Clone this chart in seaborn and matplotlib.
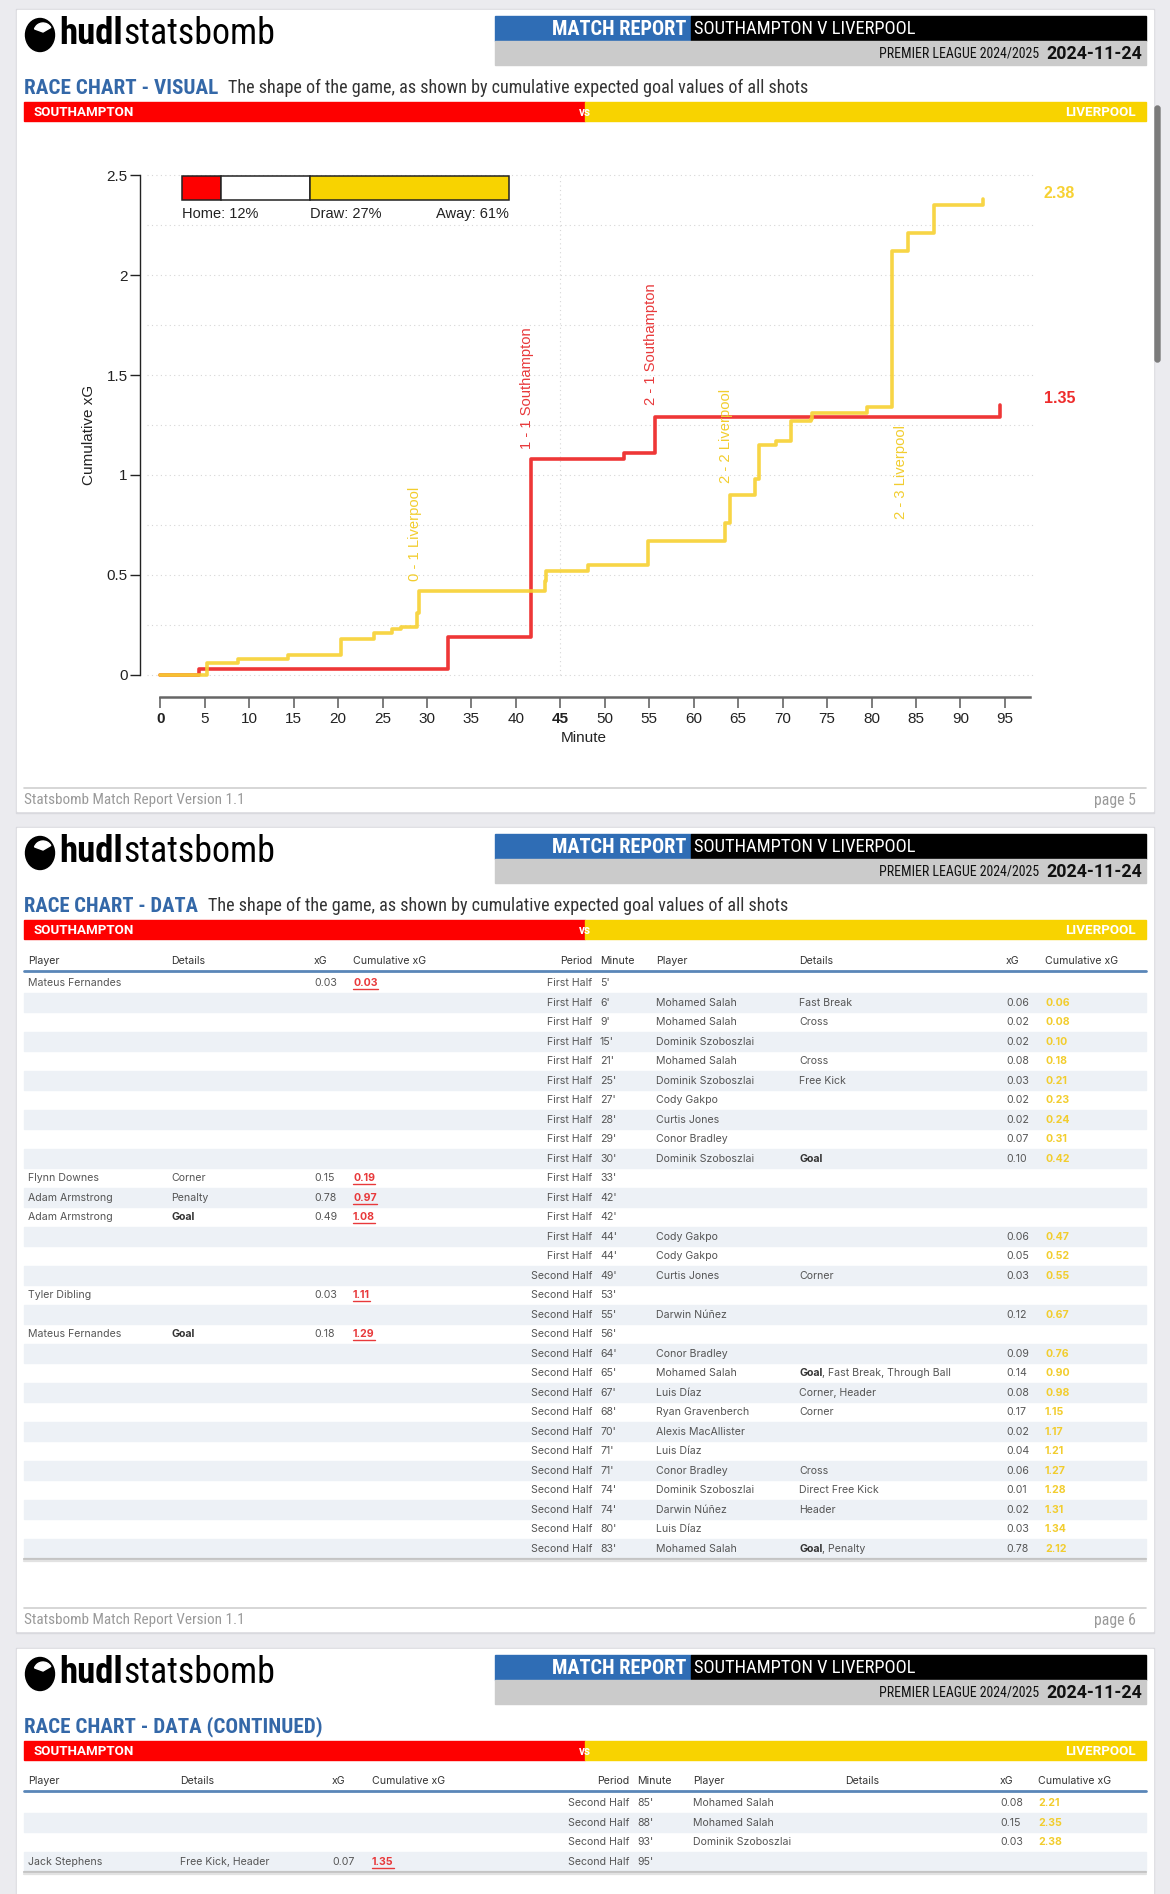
import numpy as np
import pandas as pd
import matplotlib
matplotlib.use("Agg")
import matplotlib.pyplot as plt
import seaborn as sns
from matplotlib import font_manager as fm
from matplotlib.patches import Rectangle, FancyBboxPatch, Ellipse, Wedge

# ------------------------------------------------------------------ data
home_team = "SOUTHAMPTON"
away_team = "LIVERPOOL"
competition = "PREMIER LEAGUE 2024/2025"
match_date = "2024-11-24"
match_title = "SOUTHAMPTON V LIVERPOOL"

prob_names = ["Home", "Draw", "Away"]
prob_values = [12, 27, 61]

home_minute = [5, 33, 42, 42, 53, 56, 95]
home_time = [4.4, 32.4, 41.7, 41.75, 52.2, 55.6, 94.5]
home_player = ["Mateus Fernandes", "Flynn Downes", "Adam Armstrong", "Adam Armstrong",
               "Tyler Dibling", "Mateus Fernandes", "Jack Stephens"]
home_detail = ["", "Corner", "Penalty", "Goal", "", "Goal", "Free Kick, Header"]
home_xg = [0.03, 0.15, 0.78, 0.49, 0.03, 0.18, 0.07]
home_cum = [0.03, 0.19, 0.97, 1.08, 1.11, 1.29, 1.35]

away_minute = [6, 9, 15, 21, 25, 27, 28, 29, 30, 44, 44, 49, 55, 64, 65, 67, 68, 70,
               71, 71, 74, 74, 80, 83, 85, 88, 93]
away_time = [5.2, 8.7, 14.4, 20.3, 24.0, 26.1, 27.1, 28.9, 29.1, 43.3, 43.35, 48.1, 54.9,
             63.5, 64.1, 66.9, 67.3, 69.3, 70.9, 70.95, 73.25, 73.3, 79.5, 82.35, 84.05,
             87.0, 92.5]
away_player = ["Mohamed Salah", "Mohamed Salah", "Dominik Szoboszlai", "Mohamed Salah",
               "Dominik Szoboszlai", "Cody Gakpo", "Curtis Jones", "Conor Bradley",
               "Dominik Szoboszlai", "Cody Gakpo", "Cody Gakpo", "Curtis Jones",
               "Darwin Núñez", "Conor Bradley", "Mohamed Salah", "Luis Díaz",
               "Ryan Gravenberch", "Alexis MacAllister", "Luis Díaz", "Conor Bradley",
               "Dominik Szoboszlai", "Darwin Núñez", "Luis Díaz", "Mohamed Salah",
               "Mohamed Salah", "Mohamed Salah", "Dominik Szoboszlai"]
away_detail = ["Fast Break", "Cross", "", "Cross", "Free Kick", "", "", "", "Goal", "", "",
               "Corner", "", "", "Goal, Fast Break, Through Ball", "Corner, Header",
               "Corner", "", "", "Cross", "Direct Free Kick", "Header", "",
               "Goal, Penalty", "", "", ""]
away_xg = [0.06, 0.02, 0.02, 0.08, 0.03, 0.02, 0.02, 0.07, 0.10, 0.06, 0.05, 0.03, 0.12,
           0.09, 0.14, 0.08, 0.17, 0.02, 0.04, 0.06, 0.01, 0.02, 0.03, 0.78, 0.08, 0.15,
           0.03]
away_cum = [0.06, 0.08, 0.10, 0.18, 0.21, 0.23, 0.24, 0.31, 0.42, 0.47, 0.52, 0.55, 0.67,
            0.76, 0.90, 0.98, 1.15, 1.17, 1.21, 1.27, 1.28, 1.31, 1.34, 2.12, 2.21, 2.35,
            2.38]

goal_text = ["0 - 1 Liverpool", "1 - 1 Southampton", "2 - 1 Southampton",
             "2 - 2 Liverpool", "2 - 3 Liverpool"]
goal_side = ["away", "home", "home", "away", "away"]
goal_time = [28.6, 41.2, 55.2, 63.6, 83.3]
goal_label_y = [0.47, 1.13, 1.35, 0.96, 0.78]

x_ticks = list(range(0, 96, 5))
y_ticks = [0, 0.5, 1, 1.5, 2, 2.5]
y_tick_labels = ["0", "0.5", "1", "1.5", "2", "2.5"]

# ------------------------------------------------------------------ style
sns.set_theme(style="white")
names = {f.name for f in fm.fontManager.ttflist}


def pick(*cands):
    for c in cands:
        if c in names:
            return c
    return "DejaVu Sans"


HFONT = pick("Roboto Condensed", "Liberation Sans Narrow", "Roboto", "Liberation Sans")
WFONT = pick("Roboto", "Liberation Sans")
CFONT = pick("Liberation Sans", "Roboto", "DejaVu Sans")
TFONT = pick("Inter", "Roboto", "Liberation Sans")
plt.rcParams["font.family"] = [CFONT, "DejaVu Sans"]

RED_BAR = "#fe0000"
YEL_BAR = "#f8d300"
RED_LINE = "#ee2c2c"
YEL_LINE = "#f7d132"
RED_TXT = "#e8393b"
YEL_TXT = "#f2cd2e"
BLUE = "#3468a8"
TXT = "#555555"

W, H = 1170, 1894
fig = plt.figure(figsize=(W / 100, H / 100), dpi=100)
fig.patch.set_facecolor("#ebebef")
bg = fig.add_axes([0, 0, 1, 1])
bg.set_xlim(0, W)
bg.set_ylim(H, 0)
bg.axis("off")
R = fig.canvas.get_renderer()


def fit(x, y, s, w, ha="left", fs=10, **kw):
    t = bg.text(x, y, s, ha=ha, va="center", fontsize=fs, **kw)
    bw = t.get_window_extent(R).width
    t.set_fontsize(fs * w / bw)
    return t


def twidth(t):
    return t.get_window_extent(R).width


# ------------------------------------------------------------------ pages
pages = [dict(top=10, bottom=811, title="RACE CHART - VISUAL", tw=194,
              sub="The shape of the game, as shown by cumulative expected goal values of all shots",
              sw=579, page="page 5"),
         dict(top=828, bottom=1631, title="RACE CHART - DATA", tw=174,
              sub="The shape of the game, as shown by cumulative expected goal values of all shots",
              sw=579, page="page 6"),
         dict(top=1649, bottom=1910, title="RACE CHART - DATA (CONTINUED)", tw=296,
              sub=None, sw=0, page=None)]

for p in pages:
    top, bot = p["top"], p["bottom"]
    bg.add_patch(Rectangle((16, top - 1), 1138, bot - top + 3, color="#d9d9de", zorder=0))
    bg.add_patch(Rectangle((17, top), 1136, bot - top, color="white", zorder=0.5))
    # logo
    bg.add_patch(Ellipse((40, top + 25), 29, 33, color="black", zorder=1))
    bg.add_patch(Wedge((43, top + 22), 9, 200, 330, color="white", zorder=1.1))
    fit(59, top + 24, "hudl", 64, fs=24, family=HFONT, fontweight="bold", color="black")
    fit(123, top + 24, "statsbomb", 152, fs=24, family=HFONT, color="black")
    # match box
    bg.add_patch(Rectangle((495, top + 6), 196, 25, color="#2f6db5", zorder=1))
    bg.add_patch(Rectangle((691, top + 6), 455, 25, color="black", zorder=1))
    bg.add_patch(Rectangle((495, top + 31), 651, 24, color="#cbcbcb", zorder=1))
    fit(686, top + 19, "MATCH REPORT", 135, ha="right", fs=12, family=HFONT,
        fontweight="bold", color="white", zorder=2)
    fit(694, top + 19, match_title, 222, fs=12, family=HFONT, color="white", zorder=2)
    fit(879, top + 43.5, competition, 160, fs=10, family=HFONT,
        color="#111111", zorder=2)
    fit(1142, top + 43.5, match_date, 96, ha="right", fs=10, family=WFONT,
        fontweight="bold", color="#111111", zorder=2)
    # title
    fit(24, top + 78, p["title"], p["tw"], fs=12, family=HFONT, fontweight="bold",
        color=BLUE)
    if p["sub"]:
        fit(24 + p["tw"] + 10, top + 78, p["sub"], p["sw"], fs=10, family=HFONT,
            color="#333333")
    # team bar
    bg.add_patch(Rectangle((24, top + 92), 561, 19, color=RED_BAR, zorder=1))
    bg.add_patch(Rectangle((585, top + 92), 561, 19, color=YEL_BAR, zorder=1))
    fit(33, top + 102, home_team, 100, fs=9, family=WFONT, fontweight="bold",
        color="white", zorder=2)
    fit(1136, top + 102, away_team, 70, ha="right", fs=9, family=WFONT,
        fontweight="bold", color="white", zorder=2)
    bg.text(585, top + 102, "vs", ha="center", va="center", fontsize=8.5, family=WFONT,
            fontweight="bold", color="white", zorder=2)
    # footer
    if p["page"]:
        bg.plot([24, 1146], [bot - 23, bot - 23], color="#cfcfcf", lw=1.2)
        fit(24, bot - 11, "Statsbomb Match Report Version 1.1", 221, fs=9,
            family=HFONT, color="#9a9a9a")
        fit(1136, bot - 11, p["page"], 42, ha="right", fs=9, family=HFONT,
            color="#9a9a9a")

# scrollbar thumb
bg.add_patch(FancyBboxPatch((1155, 106), 5, 256, boxstyle="round,pad=0,rounding_size=2.5",
                            color="#7b7b7b", zorder=3))

# ------------------------------------------------------------------ race chart
X0, PXM = 160.3, 8.89
Y0, PYU = 675.0, 200.0
xmin, xmax = (140 - X0) / PXM, (1040 - X0) / PXM
ymin, ymax = (Y0 - 697) / PYU, (Y0 - 160) / PYU
ax = fig.add_axes([140 / W, 1 - 697 / H, 900 / W, (697 - 160) / H])
ax.set_facecolor("none")
ax.set_zorder(2)

for v in np.arange(0, 2.51, 0.25):
    ax.hlines(v, -1.5, 98.2, colors="#d6d6d6", lw=0.8, linestyles=(0, (1, 3)), zorder=0)
ax.vlines(45, 0, 2.5, colors="#d6d6d6", lw=0.8, linestyles=(0, (1, 3)), zorder=0)

home_df = pd.DataFrame({"time": [0] + home_time, "cum": [0] + home_cum})
away_df = pd.DataFrame({"time": [0] + away_time, "cum": [0] + away_cum})
sns.lineplot(data=home_df, x="time", y="cum", ax=ax, color=RED_LINE, lw=2.6,
             drawstyle="steps-post", estimator=None, alpha=0.95, zorder=3)
sns.lineplot(data=away_df, x="time", y="cum", ax=ax, color=YEL_LINE, lw=2.6,
             drawstyle="steps-post", estimator=None, alpha=0.9, zorder=4)

ax.text(102.9, home_cum[-1] + 0.035, f"{home_cum[-1]:.2f}", ha="right", va="center",
        color=RED_LINE, fontsize=11.5, fontweight="bold", clip_on=False)
ax.text(102.9, away_cum[-1] + 0.03, f"{away_cum[-1]:.2f}", ha="right", va="center",
        color=YEL_LINE, fontsize=11.5, fontweight="bold", clip_on=False)

for txt, side, gt, gy in zip(goal_text, goal_side, goal_time, goal_label_y):
    ax.text(gt, gy, txt, rotation=90, ha="center", va="bottom", fontsize=10.6,
            color=RED_TXT if side == "home" else YEL_TXT, zorder=5)

# win-probability bar
bar_len = 36.8
fr = np.array(prob_values) / 100.0
lefts = 2.44 + np.concatenate([[0], np.cumsum(fr)[:-1]]) * bar_len
ax.barh([2.435] * 3, fr * bar_len, left=lefts, height=0.12,
        color=[RED_BAR, "white", YEL_BAR], edgecolor="#222222", lw=1.1, zorder=5)
ly = 2.305
ax.text(lefts[0], ly, f"{prob_names[0]}: {prob_values[0]}%", ha="left", va="center",
        fontsize=10.5, color="#222222")
ax.text(lefts[2], ly, f"{prob_names[1]}: {prob_values[1]}%", ha="left", va="center",
        fontsize=10.5, color="#222222")
ax.text(lefts[2] + fr[2] * bar_len, ly, f"{prob_names[2]}: {prob_values[2]}%",
        ha="right", va="center", fontsize=10.5, color="#222222")

ax.set_xlim(xmin, xmax)
ax.set_ylim(ymin, ymax)
for s in ["top", "right"]:
    ax.spines[s].set_visible(False)
ax.spines["left"].set_bounds(0, 2.5)
ax.spines["left"].set_color("#222222")
ax.spines["left"].set_linewidth(1.0)
ax.spines["bottom"].set_bounds(0, 97.8)
ax.spines["bottom"].set_color("#666666")
ax.spines["bottom"].set_linewidth(1.8)
ax.set_xticks(x_ticks)
ax.set_xticklabels([str(v) for v in x_ticks])
for lab, v in zip(ax.get_xticklabels(), x_ticks):
    if v in (0, 45):
        lab.set_fontweight("bold")
        lab.set_color("#111111")
ax.set_yticks(y_ticks)
ax.set_yticklabels(y_tick_labels)
ax.tick_params(axis="x", length=8, width=1.2, color="#666666", labelsize=11, pad=3,
               labelcolor="#222222", bottom=True)
ax.tick_params(axis="y", length=7, width=1.0, color="#222222", labelsize=11, pad=2,
               labelcolor="#222222", left=True)
ax.set_xlabel("Minute", fontsize=11, color="#222222")
ax.set_ylabel("Cumulative xG", fontsize=11, color="#222222")
ax.xaxis.set_label_coords((584 - 140) / 900, (697 - 731) / 537)
ax.yaxis.set_label_coords((96 - 140) / 900, (697 - 435) / 537)
ax.grid(False)

# ------------------------------------------------------------------ tables
rows = []
for i in range(len(home_minute)):
    rows.append(dict(t=home_time[i], m=home_minute[i], side="home", pl=home_player[i],
                     de=home_detail[i], xg=home_xg[i], cum=home_cum[i]))
for i in range(len(away_minute)):
    rows.append(dict(t=away_time[i], m=away_minute[i], side="away", pl=away_player[i],
                     de=away_detail[i], xg=away_xg[i], cum=away_cum[i]))
rows.sort(key=lambda r: r["t"])

TFS = 7.6


def cell(x, y, s, ha="left", bold=False, color=TXT, fs=TFS):
    return bg.text(x, y, s, ha=ha, va="center", fontsize=fs, family=TFONT,
                   fontweight="bold" if bold else "normal", color=color, zorder=3)


def detail(x, y, s):
    if s.startswith("Goal"):
        t = cell(x, y, "Goal", bold=True, color="#333333")
        rest = s[4:]
        if rest:
            cell(x + twidth(t), y, rest)
    elif s:
        cell(x, y, s)


def draw_table(rws, hy, c):
    heads = [("Player", c["hp"], "left"), ("Details", c["hd"], "left"),
             ("xG", c["hx"], "left"), ("Cumulative xG", c["hc"], "left"),
             ("Period", c["pr"], "right"), ("Minute", c["mn"], "left"),
             ("Player", c["ap"], "left"), ("Details", c["ad"], "left"),
             ("xG", c["ax"], "left"), ("Cumulative xG", c["ac"], "left")]
    for s, x, ha in heads:
        cell(x, hy, s, ha=ha, color="#333333")
    bg.plot([24, 1146], [hy + 10, hy + 10], color="#5a86b8", lw=2, zorder=3)
    step = 19.5
    y = hy + 22
    for k, r in enumerate(rws):
        if k % 2 == 1:
            bg.add_patch(Rectangle((24, y - step / 2), 1122, step, color="#edf1f6", zorder=1))
        cell(c["pr"], y, "First Half" if r["m"] <= 45 else "Second Half", ha="right")
        cell(c["mn"], y, f"{r['m']}'")
        if r["side"] == "home":
            cell(c["hp"], y, r["pl"])
            detail(c["hd"], y, r["de"])
            cell(c["hx"], y, f"{r['xg']:.2f}")
            t = cell(c["hc"], y, f"{r['cum']:.2f}", bold=True, color=RED_TXT)
            w = twidth(t)
            bg.plot([c["hc"], c["hc"] + w], [y + 6, y + 6], color=RED_TXT, lw=1, zorder=3)
        else:
            cell(c["ap"], y, r["pl"])
            detail(c["ad"], y, r["de"])
            cell(c["ax"], y, f"{r['xg']:.2f}")
            cell(c["ac"], y, f"{r['cum']:.2f}", bold=True, color=YEL_TXT)
        y += step
    yb = y - step / 2
    bg.plot([24, 1146], [yb + 1, yb + 1], color="#c4c4c4", lw=1.6, zorder=3)
    bg.plot([24, 1146], [yb + 2.5, yb + 2.5], color="#e2e2e2", lw=1.6, zorder=3)


cols2 = dict(hp=28, hd=171, hx=314, hc=353, pr=592, mn=600, ap=656, ad=799, ax=1006, ac=1045)
cols3 = dict(hp=28, hd=180, hx=332, hc=372, pr=629, mn=637, ap=693, ad=845, ax=1000, ac=1038)
draw_table(rows[:30], 961, cols2)
draw_table(rows[30:], 1781, cols3)

fig.savefig("out.png", dpi=100, facecolor=fig.get_facecolor())
